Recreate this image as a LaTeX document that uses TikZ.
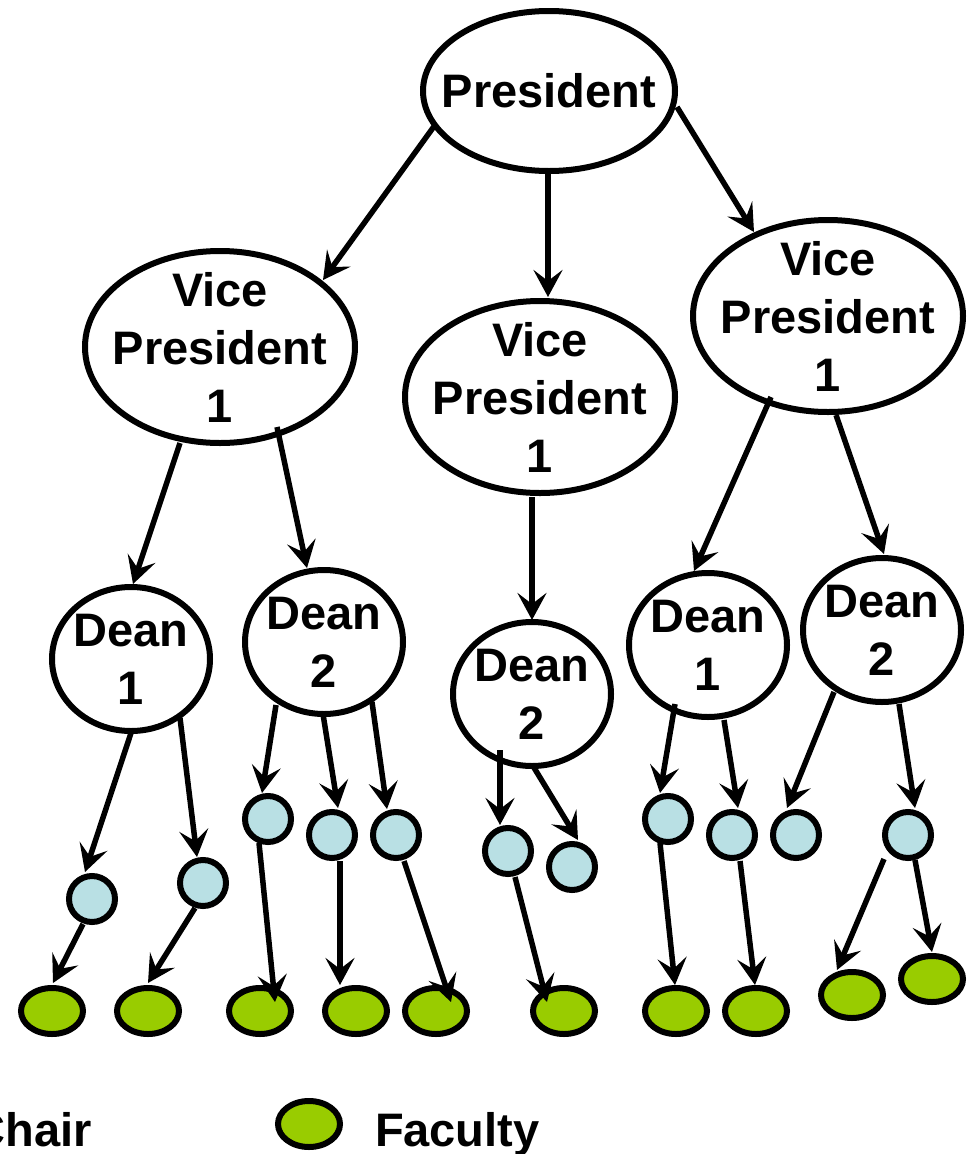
\documentclass[tikz,border=0pt]{standalone}
\usepackage{fontspec}
\setmainfont{Liberation Sans}
\usetikzlibrary{arrows.meta,calc,shapes.geometric}
\definecolor{chairblue}{RGB}{185,224,228}
\definecolor{facgreen}{RGB}{153,204,0}
\begin{document}
\begin{tikzpicture}[x=1pt,y=-1pt,
  every node/.style={inner sep=0pt, outer sep=0pt},
  lbl/.style={font=\fontsize{47}{58}\selectfont\bfseries, align=center},
  presell/.style={ellipse, draw, line width=6pt, fill=white, minimum width=252pt, minimum height=160pt},
  vpell/.style={ellipse, draw, line width=6pt, fill=white, minimum width=270pt, minimum height=192pt},
  deanell/.style={ellipse, draw, line width=6pt, fill=white, minimum width=158pt, minimum height=144pt},
  chair/.style={circle, draw, line width=6pt, fill=chairblue, minimum size=46pt},
  faculty/.style={ellipse, draw, line width=6pt, fill=facgreen, minimum width=62pt, minimum height=46pt},
  conn/.style={line width=5.5pt, -{Stealth[length=27pt,width=29pt,inset=11pt]}},
]
\useasboundingbox (0,0) rectangle (975,1154);
\clip (0,0) rectangle (975,1154);

% main hierarchy
\node[presell, label={[lbl]center:President}] (p) at (549,91) {};
\node[vpell, label={[lbl]center:Vice\\President\\1}] (vpa) at (220,347) {};
\node[vpell, label={[lbl]center:Vice\\President\\1}] (vpb) at (540,397) {};
\node[vpell, label={[lbl]center:Vice\\President\\1}] (vpc) at (828,316) {};
\node[deanell, label={[lbl]center:Dean\\1}] (da) at (131,659) {};
\node[deanell, label={[lbl]center:Dean\\2}] (db) at (324,642) {};
\node[deanell, label={[lbl]center:Dean\\2}] (dc) at (532,694) {};
\node[deanell, label={[lbl]center:Dean\\1}] (dd) at (708,645) {};
\node[deanell, label={[lbl]center:Dean\\2}] (de) at (882,630) {};

% chairs
\node[chair] (c1) at (92,899) {};
\node[chair] (c2) at (203,883) {};
\node[chair] (c3) at (268,819) {};
\node[chair] (c4) at (332,835) {};
\node[chair] (c5) at (396,835) {};
\node[chair] (c6) at (508,851) {};
\node[chair] (c7) at (572,867) {};
\node[chair] (c8) at (668,819) {};
\node[chair] (c9) at (732,835) {};
\node[chair] (c10) at (796,835) {};
\node[chair] (c11) at (908,835) {};

% faculty
\node[faculty] (f1) at (52,1011) {};
\node[faculty] (f2) at (148,1011) {};
\node[faculty] (f3) at (260,1011) {};
\node[faculty] (f4) at (356,1011) {};
\node[faculty] (f5) at (436,1011) {};
\node[faculty] (f6) at (564,1011) {};
\node[faculty] (f7) at (676,1011) {};
\node[faculty] (f8) at (756,1011) {};
\node[faculty] (f9) at (852,995) {};
\node[faculty] (f10) at (932,979) {};

% connectors
\draw[conn] ($(p)+(-114,34)$) -- ($(vpa)+(103,-67)$);
\draw[conn] ($(p)+(-1,81)$) -- ($(vpb)+(8,-100)$);
\draw[conn] ($(p)+(128,16)$) -- ($(vpc)+(-74,-84)$);
\draw[conn] ($(vpa)+(-40,96)$) -- ($(da)+(2,-75)$);
\draw[conn] ($(vpa)+(57,80)$) -- ($(db)+(-17,-74)$);
\draw[conn] ($(vpb)+(-8,100)$) -- ($(dc)+(0,-74)$);
\draw[conn] ($(vpc)+(-57,81)$) -- ($(dd)+(-14,-74)$);
\draw[conn] ($(vpc)+(8,99)$) -- ($(de)+(2,-76)$);
\draw[conn] ($(da)+(0,74)$) -- ($(c1)+(-7,-27)$);
\draw[conn] ($(da)+(49,59)$) -- ($(c2)+(-6,-26)$);
\draw[conn] ($(db)+(-48,63)$) -- ($(c3)+(-6,-26)$);
\draw[conn] ($(db)+(-1,72)$) -- ($(c4)+(6,-27)$);
\draw[conn] ($(db)+(48,60)$) -- ($(c5)+(-9,-26)$);
\draw[conn] ($(dc)+(-32,56)$) -- ($(c6)+(-8,-26)$);
\draw[conn] ($(dc)+(1,72)$) -- ($(c7)+(6,-27)$);
\draw[conn] ($(dd)+(-33,59)$) -- ($(c8)+(-8,-26)$);
\draw[conn] ($(dd)+(16,75)$) -- ($(c9)+(6,-27)$);
\draw[conn] ($(de)+(-48,62)$) -- ($(c10)+(-9,-27)$);
\draw[conn] ($(de)+(17,74)$) -- ($(c11)+(7,-27)$);
\draw[conn] ($(c1)+(-9,25)$) -- ($(f1)+(1,-28)$);
\draw[conn] ($(c2)+(-8,25)$) -- ($(f2)+(0,-28)$);
\draw[conn] ($(c3)+(-9,24)$) -- ($(f3)+(15,-9)$);
\draw[conn] ($(c4)+(8,26)$) -- ($(f4)+(-16,-26)$);
\draw[conn] ($(c5)+(8,26)$) -- ($(f5)+(15,-9)$);
\draw[conn] ($(c6)+(7,26)$) -- ($(f6)+(-17,-9)$);
\draw[conn] ($(c8)+(-8,24)$) -- ($(f7)+(-1,-26)$);
\draw[conn] ($(c9)+(8,26)$) -- ($(f8)+(-1,-26)$);
\draw[conn] ($(c11)+(-24,24)$) -- ($(f9)+(-15,-25)$);
\draw[conn] ($(c11)+(7,25)$) -- ($(f10)+(0,-27)$);

% legend
\node[lbl, anchor=base east] (chairlbl) at (92,1146) {Chair};
\node[faculty] (legf) at (309,1124) {};
\node[lbl, anchor=base west] (faclbl) at (375,1146) {Faculty};
\end{tikzpicture}
\end{document}
